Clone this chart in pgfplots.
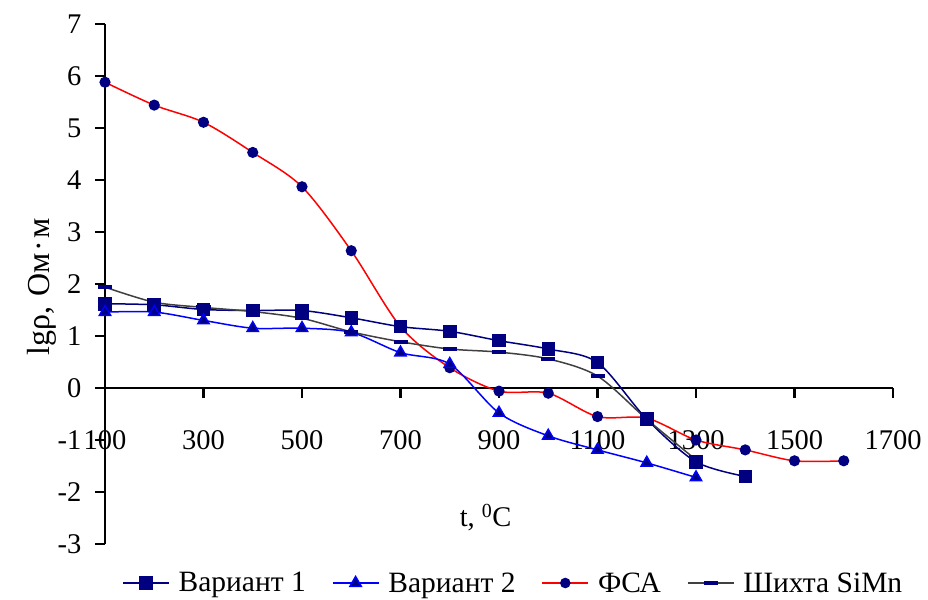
\documentclass[border=0pt]{standalone}
\usepackage{fontspec}
\setmainfont{Liberation Serif}
\usepackage{pgfplots}
\pgfplotsset{compat=1.18}

\definecolor{navy}{RGB}{0,0,128}
\definecolor{darkline}{RGB}{64,64,64}

\newcommand{\chartfont}{\fontsize{28.5}{33}\selectfont}
\newcommand{\legendfont}{\fontsize{29.5}{34}\selectfont}
\newcommand{\ylabelfont}{\fontsize{32}{37}\selectfont}

\begin{document}
\begin{tikzpicture}
\begin{axis}[
  name=ax,
  width=788pt, height=520pt, scale only axis,
  xmin=100, xmax=1700, ymin=-3, ymax=7,
  axis y line=left, axis x line=middle,
  axis line style={-, line width=2.8pt, black},
  hide obscured x ticks=false,
  hide obscured y ticks=false,
  xtick={100,300,...,1700}, ytick={-3,-2,...,7},
  minor tick num=0,
  tick align=outside, major tick length=10pt,
  tick style={line width=2.8pt, black},
  /pgf/number format/assume math mode=true,
  /pgf/number format/1000 sep={},
  tick label style={font=\chartfont},
  xticklabel style={anchor=north, yshift=-29pt},
  yticklabel style={anchor=east, xshift=-10pt},
  xlabel={t, \textsuperscript{0}C},
  ylabel={lgρ,\hspace{10pt}Ом\hspace{2pt}·\hspace{2pt}м},
  xlabel style={font=\chartfont, at={(rel axis cs:0.483,0.05)}, anchor=center},
  ylabel style={font=\ylabelfont, at={(rel axis cs:-0.080,0.494)}, anchor=center, rotate=0},
  legend style={at={(rel axis cs:0.518,-0.075)}, anchor=center, draw=none,
    font=\legendfont, legend columns=4, inner sep=0pt,
    /tikz/every odd column/.append style={column sep=7pt},
    /tikz/every even column/.append style={column sep=24pt}},
  legend cell align=left,
  legend image code/.code={%
    \draw[mark repeat=2, mark phase=2] plot coordinates {(0pt,0pt) (23pt,0pt) (46pt,0pt)};},
  clip=false,
]
% legend entries, in the order the series are listed
\addlegendimage{navy, line width=1.5pt, mark=square*, mark size=6pt, mark options={solid, fill=navy, draw=navy}}
\addlegendentry{Вариант 1}
\addlegendimage{blue, line width=1.5pt, mark=triangle*, mark size=6.5pt, mark options={solid, fill=navy, draw=blue}}
\addlegendentry{Вариант 2}
\addlegendimage{red, line width=1.5pt, mark=*, mark size=4.5pt, mark options={solid, fill=navy, draw=navy}}
\addlegendentry{ФСА}
\addlegendimage{darkline, line width=1.5pt, mark=-, mark size=7pt, mark options={solid, draw=navy, line width=4pt}}
\addlegendentry{Шихта SiMn}

% ФСА
\addplot[red, line width=1.5pt, smooth, mark=*, mark size=4.8pt,
  mark options={solid, fill=navy, draw=navy}, forget plot] coordinates {
  (100,5.88) (200,5.44) (300,5.11) (400,4.53) (500,3.87) (600,2.64)
  (700,1.18) (800,0.39) (900,-0.06) (1000,-0.10) (1100,-0.55) (1200,-0.58)
  (1300,-1.00) (1400,-1.19) (1500,-1.40) (1600,-1.40)};
% Вариант 1
\addplot[navy, line width=1.5pt, smooth, mark=square*, mark size=6pt,
  mark options={solid, fill=navy, draw=navy}, forget plot] coordinates {
  (100,1.62) (200,1.60) (300,1.51) (400,1.49) (500,1.49) (600,1.35)
  (700,1.18) (800,1.09) (900,0.91) (1000,0.75) (1100,0.49) (1200,-0.60)
  (1300,-1.42) (1400,-1.70)};
% Вариант 2
\addplot[blue, line width=1.5pt, smooth, mark=triangle*, mark size=6.5pt,
  mark options={solid, fill=navy, draw=blue}, forget plot] coordinates {
  (100,1.46) (200,1.46) (300,1.30) (400,1.15) (500,1.15) (600,1.07)
  (700,0.68) (800,0.46) (900,-0.48) (1000,-0.92) (1100,-1.19) (1200,-1.44)
  (1300,-1.72)};
% Шихта SiMn
\addplot[darkline, line width=1.5pt, smooth, mark=-, mark size=7pt,
  mark options={solid, draw=navy, line width=4pt}, forget plot] coordinates {
  (100,1.94) (200,1.65) (300,1.55) (400,1.47) (500,1.34) (600,1.08)
  (700,0.89) (800,0.75) (900,0.69) (1000,0.56) (1100,0.23) (1200,-0.60)
  (1300,-1.38)};

\coordinate (bl) at (rel axis cs:0,0);
\coordinate (tr) at (rel axis cs:1,1);
\end{axis}
\pgfresetboundingbox
\path ([shift={(-105pt,-55pt)}]bl) rectangle ([shift={(35pt,24pt)}]tr);
\end{tikzpicture}
\end{document}
